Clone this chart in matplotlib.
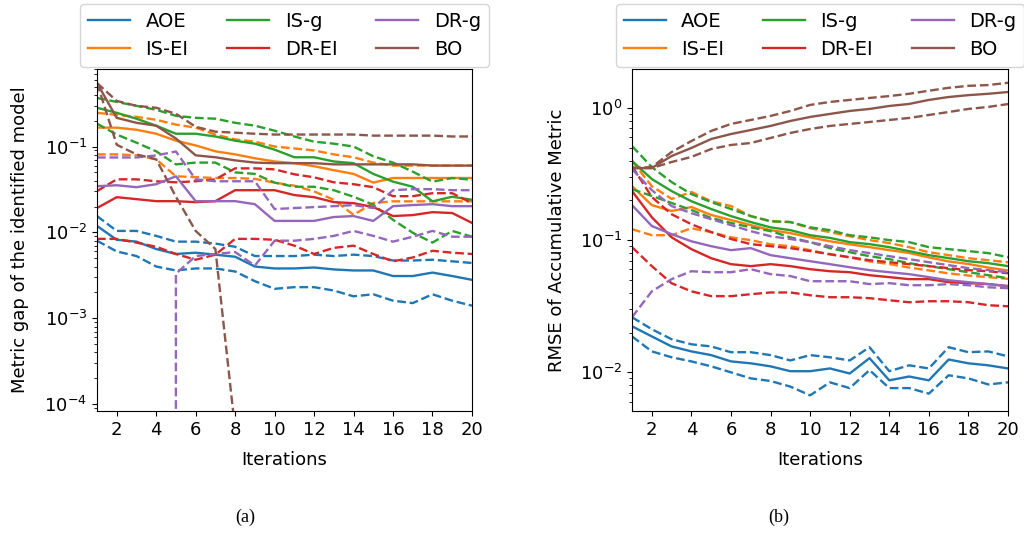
import numpy as np
import matplotlib
matplotlib.use("Agg")
import matplotlib.pyplot as plt

# Iterations shared by both panels
iters = np.arange(1, 21)
methods = ["AOE", "IS-EI", "IS-g", "DR-EI", "DR-g", "BO"]
colors = ["tab:blue", "tab:orange", "tab:green", "tab:red", "tab:purple", "tab:brown"]

# (a) metric gap: mean and upper/lower band per method
gap_mean = {
    "AOE": [0.0119, 0.0082, 0.0078, 0.0064, 0.0056, 0.0058, 0.0055, 0.0052, 0.0040, 0.0038,
            0.0038, 0.0039, 0.0037, 0.0036, 0.0036, 0.0031, 0.0031, 0.0034, 0.0031, 0.0028],
    "IS-EI": [0.166, 0.166, 0.157, 0.141, 0.117, 0.103, 0.088, 0.081, 0.073, 0.067,
              0.064, 0.059, 0.053, 0.048, 0.038, 0.043, 0.043, 0.043, 0.043, 0.043],
    "IS-g": [0.283, 0.247, 0.211, 0.175, 0.141, 0.141, 0.131, 0.117, 0.108, 0.092,
             0.075, 0.075, 0.067, 0.064, 0.048, 0.039, 0.034, 0.023, 0.026, 0.024],
    "DR-EI": [0.0192, 0.0257, 0.0244, 0.0231, 0.0231, 0.0225, 0.0231, 0.031, 0.031, 0.031,
              0.0272, 0.0257, 0.0225, 0.0219, 0.0197, 0.0155, 0.0159, 0.0172, 0.0168, 0.0129],
    "DR-g": [0.0345, 0.0354, 0.0336, 0.0364, 0.045, 0.0231, 0.0231, 0.0231, 0.0213, 0.0136,
             0.0136, 0.0136, 0.0151, 0.0155, 0.0136, 0.0202, 0.0208, 0.0213, 0.0202, 0.0202],
    "BO": [0.55, 0.216, 0.189, 0.175, 0.124, 0.079, 0.075, 0.069, 0.065, 0.064,
           0.064, 0.064, 0.062, 0.062, 0.062, 0.062, 0.062, 0.060, 0.060, 0.060],
}
gap_upper = {
    "AOE": [0.0155, 0.0104, 0.0104, 0.0091, 0.0078, 0.0078, 0.0074, 0.0068, 0.0053, 0.0053,
            0.0053, 0.0055, 0.0053, 0.0055, 0.0053, 0.0047, 0.0047, 0.0048, 0.0046, 0.0044],
    "IS-EI": [0.247, 0.234, 0.222, 0.205, 0.180, 0.166, 0.138, 0.121, 0.114, 0.100,
              0.095, 0.090, 0.081, 0.075, 0.065, 0.060, 0.060, 0.060, 0.060, 0.060],
    "IS-g": [0.368, 0.331, 0.298, 0.268, 0.228, 0.216, 0.211, 0.189, 0.175, 0.153,
             0.131, 0.114, 0.108, 0.100, 0.077, 0.065, 0.051, 0.039, 0.043, 0.041],
    "DR-EI": [0.0302, 0.0415, 0.0415, 0.0394, 0.0383, 0.0394, 0.0415, 0.0557, 0.0557, 0.0542,
              0.0475, 0.0438, 0.0383, 0.0364, 0.0336, 0.0264, 0.0264, 0.0286, 0.0286, 0.0219],
    "DR-g": [0.0746, 0.0746, 0.0746, 0.0787, 0.0876, 0.0415, 0.0394, 0.0394, 0.0394, 0.0187,
             0.0192, 0.0197, 0.0202, 0.0208, 0.0192, 0.031, 0.0319, 0.0319, 0.031, 0.031],
    "BO": [0.55, 0.340, 0.298, 0.283, 0.241, 0.170, 0.149, 0.145, 0.141, 0.138,
           0.138, 0.138, 0.138, 0.138, 0.134, 0.134, 0.134, 0.134, 0.131, 0.131],
}
# negative lower bounds fall off the log axis, like in the original
gap_lower = {
    "AOE": [0.0080, 0.0060, 0.0053, 0.0040, 0.0036, 0.0038, 0.0038, 0.0035, 0.0027, 0.0022,
            0.0023, 0.0023, 0.0021, 0.0018, 0.0019, 0.0016, 0.0015, 0.0019, 0.0016, 0.0014],
    "IS-EI": [0.081, 0.081, 0.079, 0.071, 0.045, 0.044, 0.043, 0.043, 0.042, 0.038,
              0.035, 0.030, 0.024, 0.016, 0.022, 0.023, 0.023, 0.023, 0.023, 0.023],
    "IS-g": [0.185, 0.138, 0.111, 0.088, 0.062, 0.065, 0.065, 0.050, 0.048, 0.038,
             0.034, 0.034, 0.031, 0.026, 0.021, 0.014, 0.0099, 0.0076, 0.0104, 0.0089],
    "DR-EI": [0.0084, 0.0084, 0.0076, 0.0068, 0.0056, 0.0048, 0.0055, 0.0084, 0.0084, 0.0082,
              0.0070, 0.0056, 0.0066, 0.0070, 0.0056, 0.0046, 0.0051, 0.0061, 0.0058, 0.0056],
    "DR-g": [-0.006, -0.006, -0.006, -0.006, 0.0033, 0.0053, 0.0056, 0.0059, 0.0041, 0.0080,
             0.0080, 0.0084, 0.0091, 0.0104, 0.0091, 0.0078, 0.0089, 0.0104, 0.0089, 0.0089],
    "BO": [0.55, 0.105, 0.081, 0.071, 0.026, 0.0104, 0.0064, 0.00005, -0.01, -0.01,
           -0.01, -0.01, -0.01, -0.01, -0.01, -0.01, -0.01, -0.01, -0.01, -0.01],
}

# (b) RMSE of accumulative metric
rmse_mean = {
    "AOE": [0.0223, 0.0187, 0.0157, 0.0144, 0.0135, 0.0121, 0.0117, 0.0111, 0.0102, 0.0102,
            0.0107, 0.0098, 0.0128, 0.0087, 0.0093, 0.0087, 0.0125, 0.0117, 0.0113, 0.0107],
    "IS-EI": [0.256, 0.184, 0.166, 0.178, 0.155, 0.142, 0.130, 0.119, 0.113, 0.105,
              0.098, 0.093, 0.0885, 0.084, 0.080, 0.074, 0.069, 0.066, 0.062, 0.059],
    "IS-g": [0.397, 0.290, 0.235, 0.197, 0.172, 0.152, 0.137, 0.125, 0.119, 0.109,
             0.104, 0.0966, 0.0933, 0.0885, 0.0826, 0.077, 0.0731, 0.0693, 0.067, 0.0636],
    "DR-EI": [0.235, 0.149, 0.105, 0.0855, 0.073, 0.0658, 0.0636, 0.0658, 0.0636, 0.0603,
              0.0582, 0.0572, 0.0543, 0.0525, 0.0507, 0.0507, 0.0481, 0.0473, 0.0465, 0.0449],
    "DR-g": [0.184, 0.128, 0.111, 0.098, 0.090, 0.084, 0.087, 0.077, 0.073, 0.0693,
             0.0658, 0.0624, 0.0593, 0.0572, 0.0553, 0.0525, 0.0497, 0.0481, 0.0465, 0.0449],
    "BO": [0.351, 0.351, 0.433, 0.498, 0.582, 0.635, 0.681, 0.731, 0.797, 0.855,
           0.901, 0.949, 0.983, 1.035, 1.072, 1.15, 1.21, 1.25, 1.28, 1.32],
}
rmse_upper = {
    "AOE": [0.0261, 0.0212, 0.0178, 0.0163, 0.0157, 0.0142, 0.0142, 0.0135, 0.0123, 0.0135,
            0.0130, 0.0123, 0.0155, 0.0102, 0.0113, 0.0107, 0.0155, 0.0142, 0.0144, 0.0132],
    "IS-EI": [0.397, 0.256, 0.205, 0.231, 0.197, 0.181, 0.152, 0.139, 0.137, 0.123,
              0.115, 0.107, 0.100, 0.095, 0.0885, 0.081, 0.077, 0.073, 0.0705, 0.068],
    "IS-g": [0.515, 0.357, 0.275, 0.223, 0.194, 0.172, 0.152, 0.139, 0.137, 0.125,
             0.119, 0.109, 0.105, 0.100, 0.0966, 0.0885, 0.0855, 0.0826, 0.0798, 0.0743],
    "DR-EI": [0.364, 0.212, 0.157, 0.132, 0.115, 0.102, 0.0933, 0.090, 0.087, 0.0826,
              0.0783, 0.0743, 0.0705, 0.0681, 0.0658, 0.0636, 0.0614, 0.0593, 0.0582, 0.0562],
    "DR-g": [0.345, 0.239, 0.181, 0.160, 0.144, 0.130, 0.117, 0.107, 0.102, 0.0966,
             0.090, 0.084, 0.0798, 0.0756, 0.0718, 0.0681, 0.0647, 0.0614, 0.0593, 0.0572],
    "BO": [0.351, 0.357, 0.464, 0.562, 0.670, 0.757, 0.811, 0.870, 0.949, 1.054,
           1.11, 1.15, 1.19, 1.23, 1.28, 1.35, 1.42, 1.47, 1.49, 1.55],
}
rmse_lower = {
    "AOE": [0.0187, 0.0144, 0.0130, 0.0121, 0.0111, 0.0100, 0.0090, 0.0086, 0.0078, 0.0067,
            0.0084, 0.0076, 0.0104, 0.0076, 0.0076, 0.0069, 0.0095, 0.0090, 0.0081, 0.0084],
    "IS-EI": [0.121, 0.109, 0.109, 0.123, 0.115, 0.105, 0.100, 0.093, 0.090, 0.084,
              0.078, 0.074, 0.069, 0.066, 0.062, 0.059, 0.056, 0.054, 0.0525, 0.051],
    "IS-g": [0.243, 0.216, 0.191, 0.169, 0.147, 0.135, 0.125, 0.117, 0.105, 0.0966,
             0.087, 0.081, 0.0756, 0.0718, 0.067, 0.0636, 0.0603, 0.0572, 0.0543, 0.0515],
    "DR-EI": [0.0885, 0.0636, 0.0472, 0.041, 0.0377, 0.0377, 0.039, 0.0402, 0.0402, 0.0383,
              0.037, 0.037, 0.0364, 0.0351, 0.0339, 0.0345, 0.0345, 0.0339, 0.0322, 0.0316],
    "DR-g": [0.0261, 0.041, 0.0507, 0.0582, 0.0572, 0.0572, 0.0603, 0.0553, 0.0535, 0.0489,
             0.0489, 0.0489, 0.0465, 0.0473, 0.0456, 0.0456, 0.0465, 0.0456, 0.044, 0.0433],
    "BO": [0.351, 0.351, 0.39, 0.426, 0.489, 0.525, 0.543, 0.593, 0.647, 0.693,
           0.731, 0.757, 0.783, 0.811, 0.84, 0.885, 0.932, 0.983, 1.018, 1.07],
}

plt.rcParams["font.size"] = 13

fig = plt.figure(figsize=(10.24, 5.33), dpi=100)
ax1 = fig.add_axes([0.0947, 0.2289, 0.3662, 0.6416])
ax2 = fig.add_axes([0.6172, 0.2289, 0.3672, 0.6416])


def draw(ax, mean, upper, lower):
    for m, c in zip(methods, colors):
        ax.plot(iters, mean[m], color=c, lw=1.7, label=m)
        ax.plot(iters, upper[m], color=c, lw=1.7, ls="--")
        ax.plot(iters, lower[m], color=c, lw=1.7, ls="--")
    ax.set_yscale("log")
    ax.set_xlim(1, 20)
    ax.set_xticks(np.arange(2, 21, 2))
    ax.set_xlabel("Iterations", labelpad=9)
    ax.legend(loc="lower center", bbox_to_anchor=(0.5, 1.0), ncol=3, fontsize=14,
              borderaxespad=0.1, columnspacing=2.0, handlelength=2.15)


draw(ax1, gap_mean, gap_upper, gap_lower)
ax1.set_ylim(8.3e-5, 0.8)
ax1.set_ylabel("Metric gap of the identified model", labelpad=11)

draw(ax2, rmse_mean, rmse_upper, rmse_lower)
ax2.set_ylim(0.0051, 1.97)
ax2.set_ylabel("RMSE of Accumulative Metric", labelpad=10)

fig.text(245 / 1024, 1 - 517 / 533, "(a)", ha="center", va="center",
         family="Liberation Serif", fontsize=13)
fig.text(779 / 1024, 1 - 517 / 533, "(b)", ha="center", va="center",
         family="Liberation Serif", fontsize=13)

fig.savefig("out.png", dpi=100)
